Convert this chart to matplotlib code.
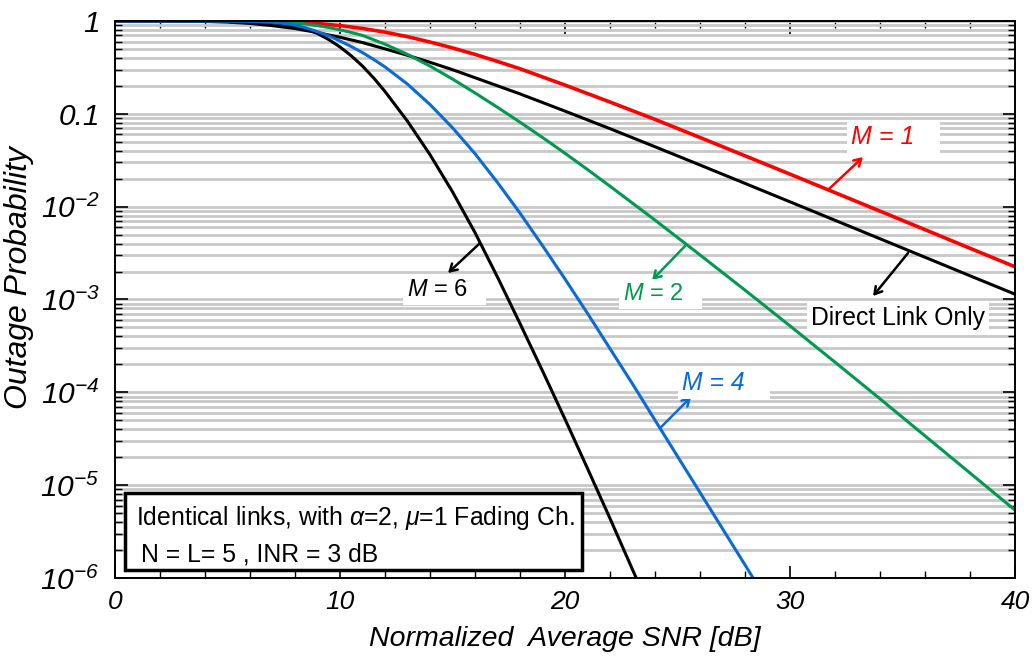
import numpy as np
import matplotlib
matplotlib.use('Agg')
import matplotlib.pyplot as plt
from matplotlib import font_manager
from matplotlib.patches import Rectangle
from matplotlib.ticker import FixedLocator, NullFormatter

plt.rcParams['font.family'] = ['Liberation Sans', 'DejaVu Sans']
plt.rcParams['mathtext.fontset'] = 'custom'
plt.rcParams['mathtext.rm'] = 'Liberation Sans:italic'  # digits in the 10^-n labels are slanted too
plt.rcParams['mathtext.it'] = 'Liberation Sans:italic'

# narrow face for the x axis, if it is there
names = set(f.name for f in font_manager.fontManager.ttflist)
narrow = 'Liberation Sans Narrow' if 'Liberation Sans Narrow' in names else None

# values (SNR in dB, outage probability)
snr_m1 = [0, 2, 4, 5, 6, 7, 8, 9, 10, 11, 12, 13, 14, 15, 16, 17, 18, 20, 22, 24, 26, 28, 30, 32, 34, 36, 38, 40]
pout_m1 = [1.0, 1.0, 0.9998, 0.9993, 0.996, 0.9886, 0.9705, 0.9397, 0.893, 0.832, 0.759, 0.678, 0.594, 0.513,
           0.437, 0.367, 0.306, 0.204, 0.134, 0.0871, 0.0556, 0.0353, 0.0224, 0.01416, 0.00895, 0.00565,
           0.00356, 0.00225]

snr_direct = [0, 2, 4, 5, 6, 7, 8, 9, 10, 11, 12, 13, 14, 15, 16, 18, 20, 22, 24, 26, 28, 30, 32, 34, 36, 38, 40]
pout_direct = [1.0, 0.9995, 0.9886, 0.973, 0.942, 0.891, 0.83, 0.75, 0.668, 0.586, 0.501, 0.427, 0.359, 0.299,
               0.245, 0.164, 0.107, 0.0692, 0.0442, 0.0281, 0.0178, 0.01127, 0.00713, 0.00451, 0.00285,
               0.0018, 0.00114]

snr_m2 = [0, 2, 4, 5, 6, 7, 8, 8.5, 9, 9.5, 10, 10.5, 11, 12, 13, 14, 15, 16, 17, 18, 19, 20, 21, 22,
          24, 26, 28, 30, 32, 34, 36, 38, 40]
pout_m2 = [1.0, 1.0, 0.9995, 0.998, 0.993, 0.979, 0.951, 0.927, 0.891, 0.851, 0.804, 0.753, 0.700, 0.562,
           0.437, 0.327, 0.237, 0.168, 0.1175, 0.0813, 0.0556, 0.0376, 0.0251, 0.0166, 7.16e-3, 3.02e-3,
           1.26e-3, 5.19e-4, 2.11e-4, 8.51e-5, 3.39e-5, 1.35e-5, 5.37e-6]

snr_m4 = [0, 2, 4, 5, 6, 6.5, 7, 7.5, 8, 8.5, 9, 9.5, 10, 10.5, 11, 11.5, 12, 13, 14, 15, 16, 17, 18, 19,
          20, 21, 22, 23, 24, 25, 26, 27, 28, 29]
pout_m4 = [1.0, 1.0, 0.9995, 0.998, 0.991, 0.982, 0.968, 0.944, 0.902, 0.841, 0.767, 0.692, 0.610, 0.531,
           0.457, 0.385, 0.320, 0.209, 0.126, 0.0708, 0.0372, 0.0182, 8.51e-3, 3.80e-3, 1.66e-3, 7.08e-4,
           2.95e-4, 1.23e-4, 5.01e-5, 2.04e-5, 8.32e-6, 3.39e-6, 1.38e-6, 5.62e-7]

snr_m6 = [0, 2, 4, 5, 6, 6.5, 7, 7.5, 8, 8.5, 9, 9.5, 10, 10.5, 11, 11.5, 12, 13, 14, 15, 16, 17, 18, 19,
          20, 21, 22, 23, 24]
pout_m6 = [1.0, 1.0, 0.9993, 0.9972, 0.991, 0.979, 0.959, 0.925, 0.879, 0.822, 0.733, 0.631, 0.525, 0.422,
           0.327, 0.243, 0.174, 0.0832, 0.0363, 0.01445, 5.25e-3, 1.74e-3, 5.5e-4, 1.70e-4, 5.13e-5,
           1.51e-5, 4.37e-6, 1.23e-6, 3.47e-7]

ytick_vals = [1, 0.1, 1e-2, 1e-3, 1e-4, 1e-5, 1e-6]
ytick_labels = ['1', '0.1', r'$10^{-2}$', r'$10^{-3}$', r'$10^{-4}$', r'$10^{-5}$', r'$10^{-6}$']
xtick_vals = [0, 10, 20, 30, 40]

c_red, c_green, c_blue, c_black = '#ff0000', '#009a4e', '#0a6ad6', 'k'
lw = 2.2

fig = plt.figure(figsize=(10.36, 6.61), dpi=100)
ax = fig.add_axes([0.111, 0.1256, 0.8688, 0.8426])
ax.set_yscale('log')
ax.set_xlim(0, 40)
ax.set_ylim(1e-6, 1)

# horizontal grid on every major and minor decade line
minor_y = [m * 10.0**e for e in range(-6, 0) for m in range(2, 10)]
ax.yaxis.set_major_locator(FixedLocator(ytick_vals))
ax.yaxis.set_minor_locator(FixedLocator(minor_y))
ax.yaxis.set_minor_formatter(NullFormatter())
ax.set_yticklabels(ytick_labels, fontsize=21.5, fontstyle='italic')
ax.grid(True, which='both', axis='y', color='#c8c8c8', lw=2.0)
ax.set_axisbelow(True)

xfont = dict(fontstyle='italic')
if narrow:
    xfont['family'] = [narrow, 'Liberation Sans']
ax.set_xticks(xtick_vals)
ax.set_xticks(np.arange(0, 41, 2), minor=True)
ax.set_xticklabels([str(v) for v in xtick_vals], fontsize=21 if narrow else 19, **xfont)
ax.tick_params(which='major', direction='in', length=9, width=1.2, top=True, right=True)
ax.tick_params(axis='y', which='major', pad=11)
ax.tick_params(axis='x', which='major', pad=9)
ax.tick_params(which='minor', direction='in', length=5, width=1.0, top=True, right=True)
for s in ax.spines.values():
    s.set_linewidth(1.4)

ax.plot(snr_m1, pout_m1, '-', c=c_red, lw=lw + 0.4)
ax.plot(snr_direct, pout_direct, '-', c=c_black, lw=lw)
ax.plot(snr_m2, pout_m2, '-', c=c_green, lw=lw)
ax.plot(snr_m6, pout_m6, '-', c=c_black, lw=lw)
ax.plot(snr_m4, pout_m4, '-', c=c_blue, lw=lw)

ax.set_xlabel('Normalized  Average SNR [dB]', fontsize=22 if narrow else 20.5, labelpad=8, **xfont)
ax.set_ylabel('Outage Probability', fontsize=23, fontstyle='italic')
ax.yaxis.set_label_coords(-0.09, 0.54)

# curve labels with arrows
wbox = dict(fc='white', ec='none', pad=3)
def label(txt, xy, xytext, tpos, color, size=17, style='normal'):
    ax.annotate('', xy=xytext, xytext=xy,
                arrowprops=dict(arrowstyle='->,head_length=0.5,head_width=0.3', color=color, lw=1.8,
                                shrinkA=0, shrinkB=0))
    ax.text(tpos[0], tpos[1], txt, color=color, fontsize=size, fontstyle=style,
            ha='center', va='center', bbox=wbox)

label('M = 1   ', (31.73, 0.0155), (33.24, 0.0342), (34.6, 0.0562), c_red, 18, 'italic')
label('Direct Link Only', (35.24, 3.16e-3), (33.69, 1.09e-3), (34.8, 6.3e-4), c_black, 17.8)
label('$M$ = 6   ', (16.22, 4.05e-3), (14.8, 1.93e-3), (14.65, 1.26e-3), c_black, 17)
label('$M$ = 2   ', (25.33, 3.76e-3), (23.87, 1.62e-3), (24.25, 1.14e-3), c_green, 17)
label('M = 4   ', (24.22, 4.11e-5), (25.6, 8.9e-5), (27.05, 1.26e-4), c_blue, 17.8, 'italic')

# parameter box
ax.add_patch(Rectangle((0.011, 0.0144), 0.508, 0.138, transform=ax.transAxes,
                       fc='white', ec='k', lw=2.5, zorder=5))
ax.text(0.0233, 0.095, r'Identical links, with $\alpha$=2, $\mu$=1 Fading Ch.', transform=ax.transAxes,
        fontsize=17.8, zorder=6)
ax.text(0.029, 0.030, 'N = L= 5 , INR = 3 dB', transform=ax.transAxes, fontsize=17.8, zorder=6)

plt.savefig('out.png', dpi=100)
